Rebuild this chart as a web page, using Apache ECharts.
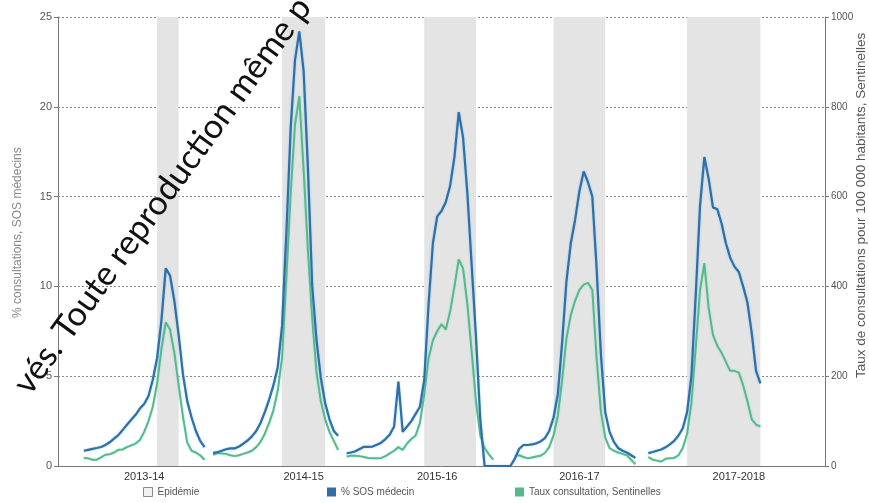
<!DOCTYPE html>
<html><head><meta charset="utf-8">
<script src="https://cdn.jsdelivr.net/npm/echarts@6/dist/echarts.min.js"></script>
<style>html,body{margin:0;padding:0;background:#fff}#c{width:869px;height:503px}</style>
</head><body><div id="c"></div>
<script>
// ---- data ----
const seasons = ['2013-14', '2014-15', '2015-16', '2016-17', '2017-2018'];

// % SOS médecins (left axis), weekly values per season
const sos1314 = [0.85,0.9,0.95,1.0,1.06,1.17,1.32,1.52,1.72,2.0,2.3,2.58,2.85,3.2,3.45,3.9,4.8,6.0,8.1,11.0,10.6,9.2,7.3,5.1,3.6,2.7,1.95,1.4,1.05];
const sos1415 = [0.72,0.77,0.85,0.93,0.98,0.98,1.08,1.24,1.42,1.65,1.95,2.4,3.0,3.7,4.5,5.5,7.8,13.0,18.8,22.6,24.2,22.0,16.6,10.0,7.0,4.9,3.5,2.6,1.95,1.68];
const sos1516 = [0.71,0.75,0.82,0.95,1.07,1.07,1.08,1.18,1.3,1.5,1.75,2.2,4.7,1.9,2.2,2.5,2.9,3.3,4.8,9.0,12.4,13.9,14.2,14.7,15.6,17.2,19.7,18.3,15.2,11.2,7.2,2.6,0,0,0,0,0,0,0];
const sos1617 = [0.4,0.95,1.17,1.17,1.2,1.26,1.37,1.55,1.95,2.7,4.0,6.9,10.3,12.4,13.7,15.3,16.4,15.8,15.0,11.0,6.2,3.0,1.9,1.35,1.0,0.85,0.75,0.6,0.45];
const sos1718 = [0.72,0.78,0.85,0.92,1.04,1.2,1.4,1.7,2.1,3.0,5.0,9.5,14.5,17.2,16.0,14.4,14.3,13.5,12.4,11.6,11.1,10.8,10.0,9.1,7.4,5.3,4.6];

// Taux de consultation Sentinelles pour 100 000 habitants (right axis)
const sent1314 = [18,17,14,14,19,25,26,30,36,37,42,46,50,58,76,100,132,184,260,320,304,252,180,110,52,34,30,24,14];
const sent1415 = [25,29,28,27,24,22,24,27,30,34,42,54,72,96,124,168,240,420,608,760,824,660,480,328,208,144,104,76,56,36];
const sent1516 = [21,23,23,22,20,18,17,17,18,22,28,34,42,36,50,60,68,96,160,240,280,300,316,304,344,400,460,440,360,256,144,68,40,26,14];
const sent1617 = [22,24,20,17,19,21,23,29,42,68,112,192,284,336,368,392,404,408,392,240,120,64,40,34,30,27,24,14,4];
const sent1718 = [20,14,12,10,16,17,18,24,40,72,140,264,392,452,352,292,268,252,232,212,212,208,180,144,104,92,88];

// Epidemic periods: [first week, last week] index within each season
const epidemicWeeks = [[17,22],[16,26],[18,30],[9,21],[9,26]];

// left / right axis ticks
const leftTicks = [0,5,10,15,20,25];
const rightTicks = [0,200,400,600,800,1000];

// ---- build category axis ----
const sosSeasons = [sos1314, sos1415, sos1516, sos1617, sos1718];
const sentSeasons = [sent1314, sent1415, sent1516, sent1617, sent1718];
const LEAD = 6, GAPS = [1,1,0,2], TOTAL = 179, LABEL_AT = [14,21,21,15,21];
const cats = [], sos = [], sent = [], labelAt = {}, seasonStart = [];
for (let i = 0; i < LEAD; i++) { cats.push('pre' + i); sos.push(null); sent.push(null); }
seasons.forEach((s, k) => {
  const start = cats.length; seasonStart.push(start);
  labelAt[start + LABEL_AT[k]] = s;
  sosSeasons[k].forEach((v, w) => {
    cats.push(s + ' S' + (w + 1));
    sos.push(v);
    sent.push(w < sentSeasons[k].length ? sentSeasons[k][w] : null);
  });
  if (k < GAPS.length) for (let g = 0; g < GAPS[k]; g++) { cats.push(s + ' gap' + g); sos.push(null); sent.push(null); }
});
while (cats.length < TOTAL) { cats.push('post' + cats.length); sos.push(null); sent.push(null); }
const bands = epidemicWeeks.map((b, k) => [{ xAxis: seasonStart[k] + b[0] }, { xAxis: seasonStart[k] + b[1] }]);

const FONT = '"Liberation Sans", Arial, sans-serif';
const BLUE = '#2f6ea6', GREEN = '#56b98a';
const chart = echarts.init(document.getElementById('c'), null, { renderer: 'canvas' });
chart.setOption({
  animation: false,
  backgroundColor: '#fff',
  textStyle: { fontFamily: FONT },
  grid: { left: 58, right: 44, top: 17, bottom: 37 },
  xAxis: {
    type: 'category', data: cats, boundaryGap: false,
    axisLine: { lineStyle: { color: '#777', width: 1 } },
    axisTick: { show: false },
    axisLabel: {
      interval: (i) => labelAt[i] !== undefined,
      formatter: (v, i) => labelAt[i] || '',
      color: '#333', fontSize: 11, margin: 5, fontFamily: FONT
    },
    splitLine: { show: false }
  },
  yAxis: [
    { type: 'value', min: 0, max: 25, interval: 5,
      axisLine: { show: true, lineStyle: { color: '#777' } },
      axisTick: { show: true, length: 4, lineStyle: { color: '#777' } },
      axisLabel: { color: '#555', fontSize: 11, margin: 6, fontFamily: FONT,
        formatter: (v) => leftTicks.includes(v) ? String(v) : '' },
      splitLine: { show: true, lineStyle: { color: '#8a8a8a', type: [2, 2], width: 1 } } },
    { type: 'value', min: 0, max: 1000, interval: 200,
      axisLine: { show: true, lineStyle: { color: '#777' } },
      axisTick: { show: true, length: 4, lineStyle: { color: '#777' } },
      axisLabel: { color: '#555', fontSize: 10, margin: 6, fontFamily: FONT,
        formatter: (v) => rightTicks.includes(v) ? String(v) : '' },
      splitLine: { show: false } }
  ],
  legend: [
    { left: 138, top: 482, selectedMode: false, icon: 'rect', itemWidth: 9, itemHeight: 9, itemGap: 4,
      textStyle: { color: '#555', fontSize: 10, fontFamily: FONT },
      data: [{ name: 'Epidémie', itemStyle: { color: '#f0f0f0', borderColor: '#8a8a8a', borderWidth: 1 } }] },
    { left: 322, top: 482, selectedMode: false, icon: 'rect', itemWidth: 9, itemHeight: 9, itemGap: 4,
      textStyle: { color: '#555', fontSize: 10, fontFamily: FONT },
      data: ['% SOS médecin'] },
    { left: 510, top: 482, selectedMode: false, icon: 'rect', itemWidth: 9, itemHeight: 9, itemGap: 4,
      textStyle: { color: '#555', fontSize: 10, fontFamily: FONT },
      data: ['Taux consultation, Sentinelles'] }
  ],
  series: [
    { name: 'Epidémie', type: 'line', data: sos.map(() => null), itemStyle: { color: '#e4e4e4' },
      silent: true, z: 1,
      markArea: { silent: true, itemStyle: { color: '#e4e4e4' }, data: bands } },
    { name: 'Taux consultation, Sentinelles', type: 'line', yAxisIndex: 1, data: sent,
      showSymbol: false, connectNulls: false, z: 3,
      itemStyle: { color: GREEN },
      lineStyle: { color: GREEN, width: 2, shadowColor: 'rgba(120,220,200,0.55)', shadowBlur: 2 } },
    { name: '% SOS médecin', type: 'line', yAxisIndex: 0, data: sos,
      showSymbol: false, connectNulls: false, z: 4,
      itemStyle: { color: BLUE },
      lineStyle: { color: BLUE, width: 2.2, shadowColor: 'rgba(90,180,240,0.6)', shadowBlur: 2 } }
  ],
  graphic: [
    { type: 'text', z: 10, x: 12, y: 318, rotation: Math.PI / 2,
      style: { text: '% consultations, SOS médecins', fill: '#888', fontSize: 12, fontFamily: FONT } },
    { type: 'text', z: 10, x: 854, y: 378, rotation: Math.PI / 2,
      style: { text: 'Taux de consultations pour 100 000 habitants, Sentinelles', fill: '#555', fontSize: 13.5, fontFamily: FONT } },
    { type: 'text', z: 20, x: 35, y: 400, rotation: 54 * Math.PI / 180,
      style: { text: 'vés. Toute reproduction même p', fill: '#111', fontSize: 34, fontFamily: 'Lato, "Open Sans", sans-serif', textVerticalAlign: 'bottom' } }
  ]
});
</script></body></html>
